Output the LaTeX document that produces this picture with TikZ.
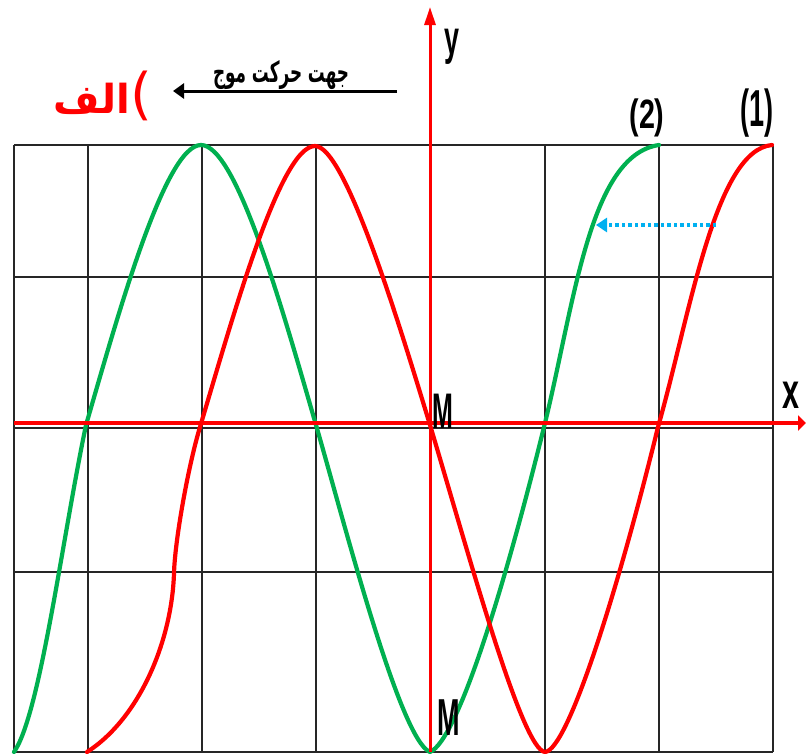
\documentclass[tikz,border=0pt]{standalone}
\usepackage{fontspec}
\setmainfont{Liberation Sans}
\newfontfamily\arabicfont[Script=Arabic]{DejaVu Sans}
\TeXXeTstate=1
\usetikzlibrary{arrows.meta}
\definecolor{wgreen}{HTML}{00B050}
\definecolor{wblue}{HTML}{00B0F0}
\definecolor{wred}{HTML}{FF0000}
\tikzset{
  gridline/.style={draw=black!85, line width=1.8pt},
  axisline/.style={draw=wred},
  wave/.style={line width=4.2pt, line join=round, line cap=round},
  lbl/.style={inner sep=0pt, font=\bfseries},
}
\begin{document}
\begin{tikzpicture}[x=1pt,y=-1pt]
\useasboundingbox[fill=white] (0,0) rectangle (806,753);
% grid
\foreach \x in {14,88,202,316,430,545,659,773}
  \draw[gridline] (\x,145) -- (\x,752);
\foreach \y in {145,277,428,572,752}
  \draw[gridline] (14,\y) -- (773,\y);
\draw[gridline, line width=2.6pt] (14,145) -- (773,145);
% green wave (2)
\draw[wave, wgreen]
  (14,752) .. controls (40,715) and (62,540) .. (86,425)
  .. controls (118,315) and (165,145) .. (201,145)
  .. controls (237,145) and (284,315) .. (316,425)
  .. controls (345,525) and (400,740) .. (430,752)
  .. controls (458,740) and (505,585) .. (545,423)
  .. controls (575,300) and (590,155) .. (659,145);
% red wave (1)
\draw[wave, wred]
  (87,752) .. controls (140,718) and (172,640) .. (174,573)
  .. controls (175,540) and (188,467) .. (200,427)
  .. controls (232,320) and (280,146) .. (315,146)
  .. controls (345,146) and (398,320) .. (430,425)
  .. controls (469,555) and (522,750) .. (545,752)
  .. controls (568,750) and (618,590) .. (658,427)
  .. controls (690,315) and (715,150) .. (772,145);
% axes
\coordinate (xs) at (14,423);
\coordinate (xe) at (806,423);
\coordinate (ys) at (430,752);
\coordinate (ye) at (430,7);
\draw[axisline, line width=4.5pt, -{Triangle[length=8pt,width=15pt]}] (xs) -- (xe);
\draw[axisline, line width=3pt, -{Triangle[length=18pt,width=11pt]}] (ys) -- (ye);
% labels
\node[lbl, anchor=base, xscale=0.56, font=\bfseries\fontsize{48}{48}\selectfont] (ylab) at (452,54) {y};
\node[lbl, anchor=base, xscale=0.61, font=\bfseries\fontsize{50}{50}\selectfont] (xlab) at (791,408) {x};
\node[lbl, anchor=base, xscale=0.5, font=\bfseries\fontsize{50}{50}\selectfont] (m1) at (443,428) {M};
\node[lbl, anchor=base, xscale=0.52, font=\bfseries\fontsize{52}{52}\selectfont] (m2) at (449,735) {M};
\node[lbl, anchor=base, xscale=0.7, font=\bfseries\fontsize{41}{41}\selectfont] (w2) at (647,128) {(2)};
\node[lbl, anchor=base, xscale=0.52, font=\bfseries\fontsize{52}{52}\selectfont] (w1) at (757,126) {(1)};
% direction arrow and caption
\coordinate (da) at (397,91);
\coordinate (db) at (173,91);
\draw[black, line width=3pt, -{Triangle[length=11pt,width=15pt]}] (da) -- (db);
\node[inner sep=0pt, xscale=0.58, font=\arabicfont\bfseries\fontsize{29}{29}\selectfont] (dir) at (281,75) {\beginR جهت حرکت موج\endR};
\node[inner sep=0pt, text=wred, font=\arabicfont\bfseries\fontsize{40}{40}\selectfont] (alef) at (103,96) {\beginR الف\endR\hspace{1pt}{\mdseries\fontsize{56}{56}\selectfont)}};
% shift arrow
\coordinate (sa) at (716,225);
\coordinate (sb) at (596,225);
\draw[wblue, line width=3.5pt, dash pattern=on 3.5pt off 3pt, -{Triangle[length=11pt,width=14pt]}] (sa) -- (sb);
\end{tikzpicture}
\end{document}
